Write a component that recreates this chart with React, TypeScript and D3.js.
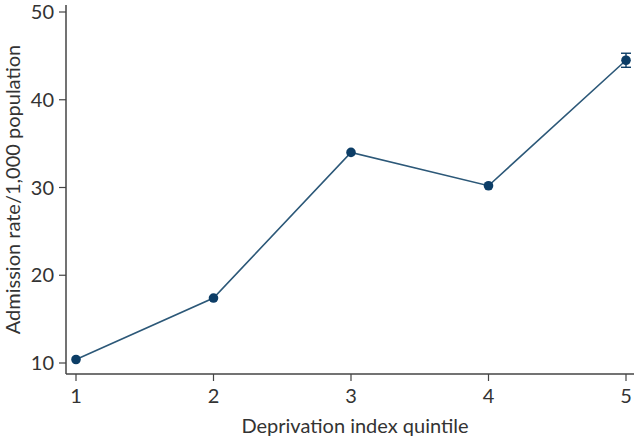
import React from "react";
import * as d3 from "d3";

const quintiles = [1, 2, 3, 4, 5];
const rates = [10.4, 17.4, 34.0, 30.2, 44.5];
const lower = [10.3, 17.3, 33.9, 30.1, 43.7];
const upper = [10.5, 17.5, 34.1, 30.3, 45.3];
const yTicks = [10, 20, 30, 40, 50];

const W = 640, H = 440;

export default function App() {
  const x = d3.scaleLinear().domain([1, 5]).range([76, 626]);
  const y = d3.scaleLinear().domain([10, 50]).range([363, 12]);
  const axisX = 66, axisY = 374;
  const font = "Lato, 'Open Sans', sans-serif";
  const textCol = "#333";
  const axisCol = "#444";
  const lineCol = "#2c5878";
  const dotCol = "#0c3d66";

  const data = quintiles.map((q, i) => ({ q, v: rates[i], lo: lower[i], hi: upper[i] }));
  const line = d3.line<{ q: number; v: number }>().x(d => x(d.q)).y(d => y(d.v));

  return (
    <svg width={W} height={H} style={{ position: "absolute", left: 0, top: 0, background: "#fff" }}>
      <rect width={W} height={H} fill="#fff" />
      {/* axes */}
      <line x1={axisX} x2={axisX} y1={5} y2={axisY} stroke={axisCol} strokeWidth={1.5} />
      <line x1={axisX} x2={634} y1={axisY} y2={axisY} stroke={axisCol} strokeWidth={1.5} />
      {yTicks.map(t => (
        <g key={t}>
          <line x1={axisX - 7} x2={axisX} y1={y(t)} y2={y(t)} stroke={axisCol} strokeWidth={1.2} />
          <text x={axisX - 12} y={y(t)} dy="0.36em" textAnchor="end" fontFamily={font} fontSize={20} fill={textCol}>{t}</text>
        </g>
      ))}
      {quintiles.map(q => (
        <g key={q}>
          <line x1={x(q)} x2={x(q)} y1={axisY} y2={axisY + 7} stroke={axisCol} strokeWidth={1.2} />
          <text x={x(q)} y={axisY + 29} textAnchor="middle" fontFamily={font} fontSize={20} fill={textCol}>{q}</text>
        </g>
      ))}
      <text x={355} y={433} textAnchor="middle" fontFamily={font} fontSize={20} fill={textCol}>Deprivation index quintile</text>
      <text transform={`translate(20, ${(5 + axisY) / 2}) rotate(-90)`} textAnchor="middle" fontFamily={font} fontSize={20} fill={textCol}>Admission rate/1,000 population</text>
      {/* series */}
      <path d={line(data) || ""} fill="none" stroke={lineCol} strokeWidth={1.6} />
      {data.map(d => (
        <g key={d.q}>
          {d.hi - d.lo > 0.5 && (
            <g stroke={dotCol} strokeWidth={1.4}>
              <line x1={x(d.q)} x2={x(d.q)} y1={y(d.hi)} y2={y(d.lo)} />
              <line x1={x(d.q) - 5} x2={x(d.q) + 5} y1={y(d.hi)} y2={y(d.hi)} />
              <line x1={x(d.q) - 5} x2={x(d.q) + 5} y1={y(d.lo)} y2={y(d.lo)} />
            </g>
          )}
          <circle cx={x(d.q)} cy={y(d.v)} r={4.8} fill={dotCol} />
        </g>
      ))}
    </svg>
  );
}
